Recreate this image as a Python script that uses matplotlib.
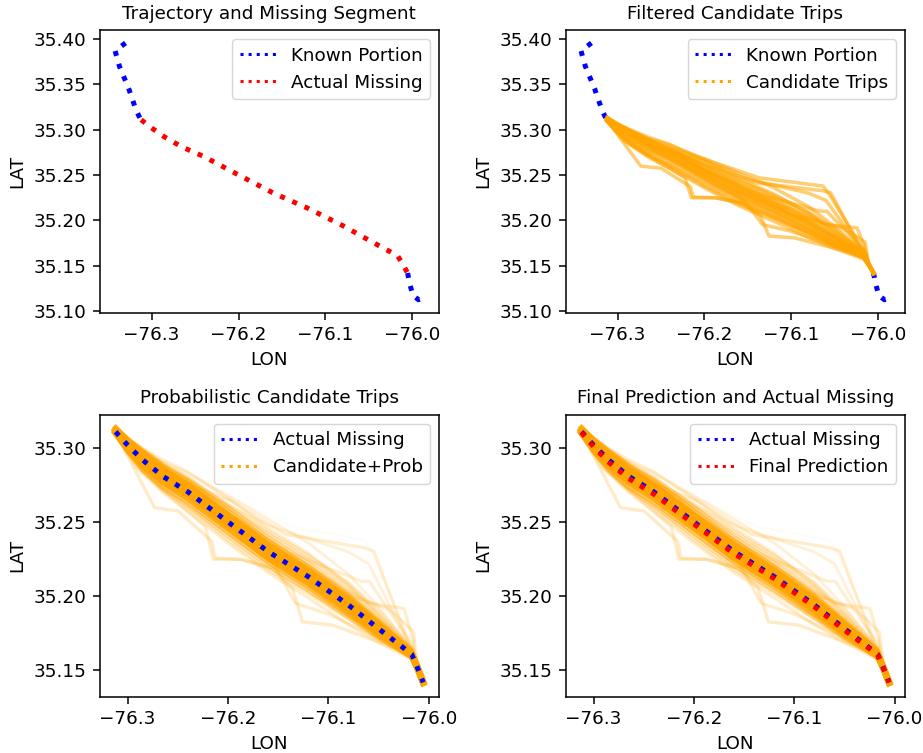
import matplotlib
matplotlib.use("Agg")
import matplotlib.pyplot as plt
from matplotlib.lines import Line2D

# overall text / line scale (reference looks like a ~133 dpi render)
FS = 13.2
plt.rcParams.update({
    "font.size": FS,
    "axes.linewidth": 1.1,
    "xtick.major.size": 4.7,
    "ytick.major.size": 4.7,
    "xtick.major.width": 1.1,
    "ytick.major.width": 1.1,
    "xtick.major.pad": 4.7,
    "ytick.major.pad": 4.7,
    "axes.labelpad": 5.3,
    "axes.titlepad": 8.0,
    "legend.fontsize": FS,
})

# known portion of the trajectory (before / after the gap)
KNOWN_BEFORE_LON = [-76.3300, -76.3420, -76.3370, -76.3262, -76.3180, -76.3125]
KNOWN_BEFORE_LAT = [35.3958, 35.3870, 35.3700, 35.3450, 35.3220, 35.3110]
KNOWN_AFTER_LON = [-76.0055, -76.0030, -75.9995, -75.9930, -75.9870]
KNOWN_AFTER_LAT = [35.1420, 35.1300, 35.1175, 35.1125, 35.1140]

# actual missing segment and final prediction
MISS_LON = [-76.3120, -76.300, -76.285, -76.265, -76.240, -76.200, -76.160,
            -76.120, -76.080, -76.050, -76.017, -76.011, -76.0055]
MISS_LAT = [35.3110, 35.3020, 35.2920, 35.2810, 35.2705, 35.2502, 35.2302,
            35.2133, 35.1942, 35.1782, 35.1610, 35.1515, 35.1420]
PRED_LAT = [35.3105, 35.3010, 35.2905, 35.2795, 35.2690, 35.2488, 35.2288,
            35.2120, 35.1930, 35.1772, 35.1606, 35.1513, 35.1420]

# candidate trips that follow the main corridor (sampled at MISS_LON)
CORE_LAT = [
    [35.3115, 35.3025, 35.2925, 35.2815, 35.2710, 35.2508, 35.2310, 35.2140, 35.1948, 35.1786, 35.1612, 35.1516, 35.1420],
    [35.3125, 35.3045, 35.2955, 35.2850, 35.2748, 35.2545, 35.2345, 35.2172, 35.1978, 35.1810, 35.1620, 35.1520, 35.1418],
    [35.3100, 35.2995, 35.2885, 35.2770, 35.2662, 35.2460, 35.2262, 35.2095, 35.1905, 35.1752, 35.1598, 35.1508, 35.1415],
    [35.3135, 35.3060, 35.2980, 35.2880, 35.2778, 35.2575, 35.2372, 35.2200, 35.2005, 35.1830, 35.1628, 35.1522, 35.1422],
    [35.3095, 35.2980, 35.2860, 35.2740, 35.2635, 35.2432, 35.2232, 35.2065, 35.1878, 35.1730, 35.1590, 35.1505, 35.1410],
    [35.3120, 35.3030, 35.2940, 35.2835, 35.2728, 35.2525, 35.2320, 35.2155, 35.1962, 35.1798, 35.1615, 35.1518, 35.1422],
    [35.3105, 35.3010, 35.2905, 35.2795, 35.2688, 35.2485, 35.2285, 35.2115, 35.1925, 35.1768, 35.1605, 35.1512, 35.1418],
    [35.3130, 35.3050, 35.2960, 35.2845, 35.2725, 35.2505, 35.2290, 35.2110, 35.1915, 35.1760, 35.1600, 35.1510, 35.1415],
    [35.3100, 35.2990, 35.2880, 35.2775, 35.2680, 35.2495, 35.2310, 35.2150, 35.1965, 35.1805, 35.1620, 35.1520, 35.1425],
    [35.3130, 35.3060, 35.2985, 35.2895, 35.2800, 35.2605, 35.2400, 35.2225, 35.2025, 35.1845, 35.1635, 35.1525, 35.1420],
    [35.3092, 35.2972, 35.2848, 35.2725, 35.2610, 35.2405, 35.2205, 35.2040, 35.1855, 35.1712, 35.1585, 35.1502, 35.1408],
    [35.3140, 35.3055, 35.2965, 35.2860, 35.2755, 35.2555, 35.2355, 35.2185, 35.1990, 35.1822, 35.1625, 35.1521, 35.1421],
    [35.3135, 35.3070, 35.3000, 35.2920, 35.2840, 35.2660, 35.2460, 35.2290, 35.2080, 35.1880, 35.1640, 35.1525, 35.1420],
    [35.3130, 35.3060, 35.2990, 35.2905, 35.2830, 35.2680, 35.2520, 35.2360, 35.2150, 35.1930, 35.1650, 35.1525, 35.1420],
    [35.3090, 35.2965, 35.2835, 35.2700, 35.2575, 35.2360, 35.2160, 35.1990, 35.1810, 35.1690, 35.1575, 35.1500, 35.1410],
    [35.3125, 35.3050, 35.2975, 35.2880, 35.2790, 35.2620, 35.2440, 35.2275, 35.2090, 35.1905, 35.1650, 35.1525, 35.1420],
    [35.3095, 35.2975, 35.2850, 35.2720, 35.2600, 35.2380, 35.2180, 35.2020, 35.1850, 35.1720, 35.1590, 35.1505, 35.1410],
    [35.3120, 35.3040, 35.2950, 35.2860, 35.2770, 35.2600, 35.2420, 35.2250, 35.2060, 35.1870, 35.1640, 35.1522, 35.1420],
    [35.3110, 35.3015, 35.2915, 35.2805, 35.2700, 35.2470, 35.2250, 35.2080, 35.1890, 35.1745, 35.1595, 35.1508, 35.1415],
]
CORE_PROB = [0.9, 0.8, 0.8, 0.6, 0.6, 0.9, 0.9, 0.7, 0.7, 0.35, 0.35, 0.6,
             0.2, 0.15, 0.2, 0.25, 0.25, 0.3, 0.6]

# detour candidates, each with its own vertices
DETOUR_LON = [
    [-76.3125, -76.2535, -76.1991, -76.1370, -76.0634, -76.0576, -76.0148, -76.011, -76.005],
    [-76.3125, -76.2600, -76.1961, -76.1425, -76.0637, -76.0547, -76.0168, -76.011, -76.005],
    [-76.3125, -76.2732, -76.2498, -76.2162, -76.2129, -76.1861, -76.1559, -76.1358, -76.1258, -76.0956, -76.017, -76.011, -76.005],
    [-76.3125, -76.2400, -76.1900, -76.1550, -76.1332, -76.1000, -76.017, -76.011, -76.005],
    [-76.3125, -76.2000, -76.1200, -76.0594, -76.0245, -76.0168, -76.011, -76.005],
    [-76.3125, -76.2200, -76.1400, -76.0672, -76.0594, -76.0168, -76.011, -76.005],
    [-76.3125, -76.2922, -76.2224, -76.2150, -76.1875, -76.1570, -76.1000, -76.017, -76.011, -76.005],
    [-76.3125, -76.2000, -76.1000, -76.0386, -76.0151, -76.011, -76.005],
    [-76.3125, -76.2300, -76.1600, -76.0800, -76.0600, -76.0180, -76.011, -76.005],
]
DETOUR_LAT = [
    [35.3115, 35.2839, 35.2673, 35.2470, 35.2379, 35.2305, 35.1642, 35.152, 35.142],
    [35.3110, 35.2810, 35.2644, 35.2418, 35.2327, 35.2304, 35.1624, 35.152, 35.142],
    [35.3110, 35.2599, 35.2576, 35.2372, 35.2259, 35.2248, 35.2191, 35.2055, 35.1828, 35.1806, 35.161, 35.1515, 35.142],
    [35.3110, 35.2680, 35.2400, 35.2230, 35.1955, 35.1880, 35.161, 35.1515, 35.142],
    [35.3110, 35.2560, 35.2200, 35.1955, 35.1918, 35.1735, 35.152, 35.142],
    [35.3110, 35.2650, 35.2300, 35.2102, 35.2102, 35.1680, 35.152, 35.142],
    [35.3110, 35.2875, 35.2470, 35.2250, 35.2250, 35.2190, 35.1950, 35.161, 35.1515, 35.142],
    [35.3110, 35.2540, 35.2060, 35.1910, 35.1760, 35.152, 35.142],
    [35.3110, 35.2720, 35.2480, 35.2300, 35.2220, 35.1660, 35.152, 35.142],
]
DETOUR_PROB = [0.03, 0.2, 0.22, 0.2, 0.2, 0.18, 0.2, 0.2, 0.15]

TITLES = ["Trajectory and Missing Segment", "Filtered Candidate Trips",
          "Probabilistic Candidate Trips", "Final Prediction and Actual Missing"]

LW_DOT = 3.6
LW_TRIP = 2.5
LW_LEG = 2.2


def candidates(ax, weighted=False):
    for lat, p in zip(CORE_LAT, CORE_PROB):
        if weighted:
            ax.plot(MISS_LON, lat, color="orange", lw=1.6 + 3.5 * p, alpha=p)
        else:
            ax.plot(MISS_LON, lat, color="orange", lw=LW_TRIP, alpha=0.55)
    for lon, lat, p in zip(DETOUR_LON, DETOUR_LAT, DETOUR_PROB):
        if weighted:
            ax.plot(lon, lat, color="orange", lw=1.6 + 3.5 * p, alpha=p)
        else:
            ax.plot(lon, lat, color="orange", lw=LW_TRIP, alpha=0.55)


def known(ax):
    ax.plot(KNOWN_BEFORE_LON, KNOWN_BEFORE_LAT, color="blue", ls=":", lw=LW_DOT)
    ax.plot(KNOWN_AFTER_LON, KNOWN_AFTER_LAT, color="blue", ls=":", lw=LW_DOT)


def leg(ax, items):
    handles = [Line2D([], [], color=c, ls=":", lw=LW_LEG) for c, _ in items]
    ax.legend(handles, [t for _, t in items], loc="upper right")


fig, axes = plt.subplots(2, 2, figsize=(9.23, 7.53), dpi=100)
fig.subplots_adjust(left=0.108, right=0.9805, top=0.960, bottom=0.0744,
                    wspace=0.3726, hspace=0.361)

ax = axes[0, 0]
known(ax)
ax.plot(MISS_LON, MISS_LAT, color="red", ls=":", lw=LW_DOT)
leg(ax, [("blue", "Known Portion"), ("red", "Actual Missing")])

ax = axes[0, 1]
known(ax)
candidates(ax)
leg(ax, [("blue", "Known Portion"), ("orange", "Candidate Trips")])

ax = axes[1, 0]
candidates(ax, weighted=True)
ax.plot(MISS_LON, MISS_LAT, color="blue", ls=":", lw=LW_DOT)
leg(ax, [("blue", "Actual Missing"), ("orange", "Candidate+Prob")])

ax = axes[1, 1]
candidates(ax, weighted=True)
ax.plot(MISS_LON, MISS_LAT, color="blue", ls=":", lw=LW_DOT)
ax.plot(MISS_LON, PRED_LAT, color="red", ls=":", lw=LW_DOT)
leg(ax, [("blue", "Actual Missing"), ("red", "Final Prediction")])

for ax, title in zip(axes.flat, TITLES):
    ax.set_title(title, fontsize=FS)
    ax.set_xlabel("LON")
    ax.set_ylabel("LAT")
    ax.set_xticks([-76.3, -76.2, -76.1, -76.0])

fig.savefig("out.png", dpi=100)
